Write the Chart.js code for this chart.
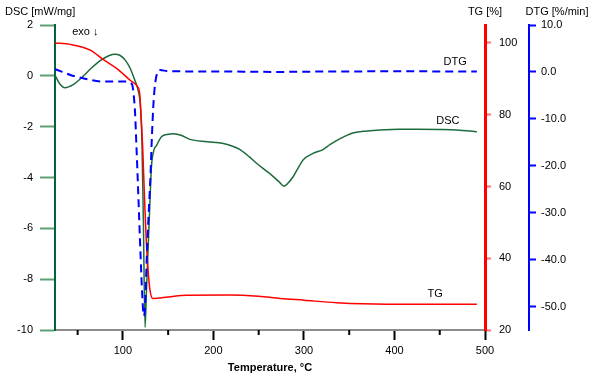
<!DOCTYPE html>
<html>
<head>
<meta charset="utf-8">
<script src="https://cdn.jsdelivr.net/npm/chart.js@4.4.1/dist/chart.umd.min.js"></script>
<style>
  body { margin: 0; background: #fff; }
</style>
</head>
<body>
<canvas id="myChart" width="600" height="383"></canvas>
<script>
// DSC curve (mW/mg) vs temperature
const dscTemp = [25, 30, 36, 45, 55, 65, 75, 85, 91, 97, 103, 108, 113, 117, 119, 121, 122.6, 124.5, 126, 127.6, 129.5, 131.5, 134, 137, 142.6, 150, 156, 165, 174, 193, 211, 229, 240, 248, 262, 272, 278, 283, 288, 294, 299, 310, 321, 329, 336, 344, 355, 370, 384, 405, 425, 450, 469, 491];
const dscValues = [0.03, -0.3, -0.47, -0.35, -0.05, 0.3, 0.6, 0.8, 0.85, 0.8, 0.6, 0.3, -0.15, -0.6, -1.05, -2.5, -5.7, -9.9, -8.5, -7.0, -5.3, -3.6, -2.95, -2.75, -2.4, -2.3, -2.28, -2.35, -2.5, -2.59, -2.66, -2.89, -3.2, -3.45, -3.84, -4.15, -4.34, -4.2, -3.97, -3.6, -3.31, -3.05, -2.9, -2.7, -2.55, -2.4, -2.24, -2.17, -2.13, -2.1, -2.1, -2.11, -2.13, -2.2];

// TG curve (%)
const tgTemp = [25, 42, 64, 78, 93, 108, 116, 118.5, 120, 122, 124, 126, 128, 130, 133, 150, 170, 218, 250, 274, 300, 336, 391, 491];
const tgValues = [100, 99.6, 98, 95.4, 92.9, 89.6, 87.8, 86, 80, 70, 56, 44, 36, 31, 28.8, 29.2, 29.7, 29.75, 29.4, 28.8, 28.3, 27.6, 27.2, 27.2];

// DTG curve (%/min)
const dtgTemp = [25, 33, 42, 56, 78, 103, 110, 112, 113.5, 115, 117, 119.5, 121.5, 123, 124.5, 126.3, 128.5, 130.5, 132, 134, 136, 138, 141, 150, 200, 270, 300, 350, 410, 460, 491];
const dtgValues = [0.6, 0.0, -0.64, -1.34, -2.06, -2.06, -2.6, -5, -9, -16, -26, -39, -48, -52, -50, -40, -30, -22, -14, -6, -2, -0.2, 0.4, 0.15, 0.1, 0.0, 0.05, 0.1, 0.15, 0.1, 0.1];

const tempTicks = [100, 200, 300, 400, 500];
const tempMinorTicks = [50, 150, 250, 350, 450];
const dscTicks = [2, 0, -2, -4, -6, -8, -10];
const tgTicks = [100, 80, 60, 40, 20];
const dtgTicks = [10, 0, -10, -20, -30, -40, -50];

const FONT = "'Liberation Sans', Arial, sans-serif";
Chart.defaults.font.family = FONT;
Chart.defaults.font.size = 11;
Chart.defaults.color = "#000";

function toPoints(xs, ys) {
  return xs.map(function (x, i) { return { x: x, y: ys[i] }; });
}
function fixTicks(list) {
  return function (scale) {
    scale.ticks = list.map(function (v) { return { value: v }; });
  };
}

const extras = {
  id: "extras",
  afterDraw(chart) {
    const ctx = chart.ctx;
    const s = chart.scales;
    ctx.save();
    // minor ticks on temperature axis
    ctx.strokeStyle = "#000";
    ctx.lineWidth = 2;
    tempMinorTicks.forEach(function (v) {
      const x = s.x.getPixelForValue(v);
      ctx.beginPath();
      ctx.moveTo(x, s.x.top);
      ctx.lineTo(x, s.x.top + 5);
      ctx.stroke();
    });
    // axis titles
    ctx.fillStyle = "#000";
    ctx.font = "11px " + FONT;
    ctx.textBaseline = "middle";
    ctx.textAlign = "left";
    ctx.fillText("DSC [mW/mg]", 5, 12);
    ctx.textAlign = "center";
    ctx.fillText("TG [%]", s.yTg.left, 12);
    ctx.fillText("DTG [%/min]", s.yDtg.left + 28, 12);
    // series labels
    ctx.textAlign = "left";
    ctx.fillText("exo \u2193", s.x.getPixelForValue(44), s.yDsc.getPixelForValue(1.72));
    ctx.textAlign = "center";
    ctx.fillText("DTG", s.x.getPixelForValue(467), s.yDtg.getPixelForValue(2.1));
    ctx.fillText("DSC", s.x.getPixelForValue(459), s.yDsc.getPixelForValue(-1.78));
    ctx.fillText("TG", s.x.getPixelForValue(445), s.yTg.getPixelForValue(30));
    ctx.restore();
  }
};

new Chart(document.getElementById("myChart"), {
  type: "line",
  data: {
    datasets: [
      {
        label: "DTG",
        data: toPoints(dtgTemp, dtgValues),
        yAxisID: "yDtg",
        borderColor: "#0000ff",
        borderWidth: 2,
        borderDash: [8, 5],
        pointRadius: 0,
        cubicInterpolationMode: "monotone",
      },
      {
        label: "TG",
        data: toPoints(tgTemp, tgValues),
        yAxisID: "yTg",
        borderColor: "#ff0000",
        borderWidth: 1.5,
        pointRadius: 0,
        cubicInterpolationMode: "monotone",
      },
      {
        label: "DSC",
        data: toPoints(dscTemp, dscValues),
        yAxisID: "yDsc",
        borderColor: "#1d6b3c",
        borderWidth: 1.5,
        pointRadius: 0,
        cubicInterpolationMode: "monotone",
      },
    ],
  },
  options: {
    responsive: false,
    animation: false,
    layout: { padding: { top: 25, left: 0, right: 0, bottom: 0 } },
    plugins: { legend: { display: false }, tooltip: { enabled: false } },
    scales: {
      x: {
        type: "linear",
        min: 25,
        max: 500,
        afterBuildTicks: fixTicks(tempTicks),
        border: { color: "#8c8c8c", width: 2 },
        grid: { drawOnChartArea: false, tickLength: 10, tickColor: "#000", tickWidth: 2 },
        ticks: { padding: 4, maxRotation: 0 },
        title: {
          display: true,
          text: "Temperature, \u00b0C",
          font: { size: 11, weight: "bold" },
          padding: { top: 4, bottom: 8 },
        },
        afterFit: function (scale) { scale.height = 53; },
      },
      yDsc: {
        position: "left",
        min: -10,
        max: 2,
        afterBuildTicks: fixTicks(dscTicks),
        border: { color: "#00643c", width: 2 },
        grid: { drawOnChartArea: false, tickLength: 15, tickColor: "#5f9f78", tickWidth: 2 },
        ticks: { padding: 7 },
        afterFit: function (scale) { scale.width = 55; },
      },
      yTg: {
        position: "right",
        weight: 0,
        min: 20,
        max: 105,
        afterBuildTicks: fixTicks(tgTicks),
        border: { color: "#ff0000", width: 3 },
        grid: { drawOnChartArea: false, tickLength: 6, tickColor: "#ff7070", tickWidth: 2 },
        ticks: { padding: 8 },
        afterFit: function (scale) { scale.width = 44; },
      },
      yDtg: {
        position: "right",
        weight: 1,
        min: -55,
        max: 10,
        afterBuildTicks: fixTicks(dtgTicks),
        border: { color: "#0000ff", width: 2 },
        grid: { drawOnChartArea: false, tickLength: 7, tickColor: "#0000ff", tickWidth: 2 },
        ticks: { padding: 5, callback: function (v) { return v.toFixed(1); } },
        afterFit: function (scale) { scale.width = 71; },
      },
    },
  },
  plugins: [extras],
});
</script>
</body>
</html>
